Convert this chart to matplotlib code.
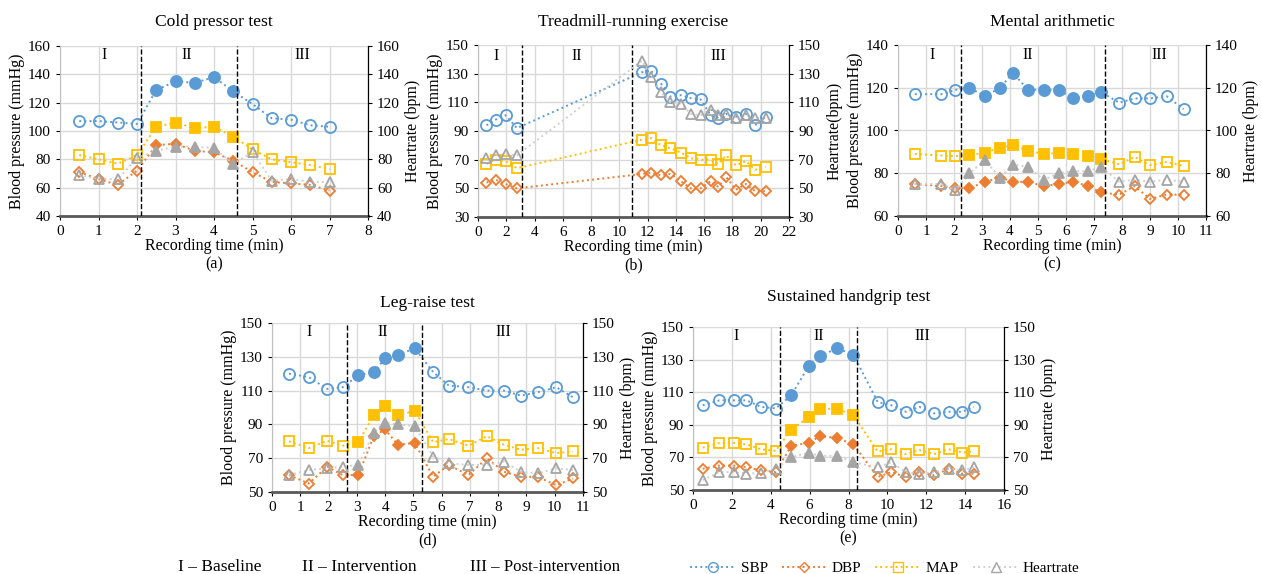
import matplotlib
matplotlib.use('Agg')
import matplotlib.pyplot as plt
from matplotlib.lines import Line2D

plt.rcParams['font.family'] = ['Liberation Serif', 'DejaVu Serif']
plt.rcParams['font.size'] = 11

# ---- 数据 ----
# (a) Cold pressor test
a_t   = [0.5, 1, 1.5, 2, 2.5, 3, 3.5, 4, 4.5, 5, 5.5, 6, 6.5, 7]
a_sbp = [107, 107, 106, 105, 129, 135, 134, 138, 128, 119, 109, 108, 104, 103]
a_dbp = [71, 66, 62, 72, 90, 91, 86, 85, 79, 71, 64, 63, 62, 58]
a_map = [83, 80, 77, 83, 103, 106, 102, 103, 96, 87, 80, 78, 76, 73]
a_hr  = [69, 66, 66, 81, 86, 89, 89, 88, 77, 85, 65, 66, 64, 64]
a_on  = [4, 5, 6, 7, 8]

# (b) Treadmill-running exercise
b_t   = [0.6, 1.25, 1.95, 2.75, 11.6, 12.25, 12.95, 13.6, 14.35, 15.05, 15.75,
         16.45, 17.0, 17.55, 18.25, 18.95, 19.6, 20.35]
b_sbp = [94, 98, 101, 92, 131, 132, 123, 114, 115, 113, 112, 101, 99, 102, 100, 102, 94, 100]
b_dbp = [54, 56, 53, 50, 60, 61, 59, 60, 55, 50, 50, 55, 51, 58, 49, 53, 48, 48]
b_map = [67, 70, 69, 64, 84, 85, 80, 78, 75, 71, 70, 70, 67, 73, 66, 69, 63, 65]
b_hr  = [71, 73, 74, 73, 139, 128, 117, 110, 109, 102, 101, 105, 101, 102, 99, 101, 99, 99]
b_on  = []

# (c) Mental arithmetic
c_t   = [0.6, 1.55, 2.05, 2.55, 3.1, 3.65, 4.1, 4.65, 5.2, 5.75, 6.25, 6.8, 7.25,
         7.9, 8.45, 9.0, 9.6, 10.2]
c_sbp = [117, 117, 119, 120, 116, 120, 127, 119, 119, 119, 115, 116, 118, 113, 115, 115, 116, 110]
c_dbp = [75, 74, 73, 73, 76, 78, 76, 76, 74, 75, 76, 74, 71, 70, 74, 68, 70, 70]
c_map = [89, 88.3, 88, 88.6, 89.5, 92, 93, 90.6, 89, 89.5, 89, 88, 86.7, 84.2, 87.6, 83.8, 85.3, 83.4]
c_hr  = [75, 75, 72, 80, 86, 78, 84, 83, 77, 80, 81, 81, 83, 76, 77, 76, 77, 76]
c_on  = [3, 4, 5, 6, 7, 8, 9, 10, 11, 12]

# (d) Leg-raise test
d_t   = [0.6, 1.3, 1.95, 2.5, 3.05, 3.6, 4.0, 4.45, 5.05, 5.7, 6.25, 6.95, 7.6,
         8.2, 8.8, 9.4, 10.05, 10.65]
d_sbp = [120, 118, 111, 112, 119, 121, 129, 131, 135, 121, 113, 112, 110, 110, 107, 109, 112, 106]
d_dbp = [60, 55, 65, 60, 60, 83, 87, 78, 79, 59, 66, 60, 70, 62, 59, 59, 54, 58]
d_map = [80, 76, 80.3, 77.4, 79.5, 95.5, 101, 95.5, 98, 79.5, 81.3, 77.4, 83, 78, 75, 76, 73, 74]
d_hr  = [60, 63, 64, 65, 66, 85, 91, 90, 89, 71, 67, 66, 66, 68, 62, 61, 64, 63]
d_on  = [4, 5, 6, 7, 8]

# (e) Sustained handgrip test
e_t   = [0.5, 1.35, 2.1, 2.75, 3.5, 4.25, 5.05, 5.95, 6.55, 7.4, 8.25, 9.5, 10.2,
         10.95, 11.65, 12.4, 13.15, 13.85, 14.45]
e_sbp = [102, 105, 105, 105, 101, 100, 108, 126, 132, 137, 133, 104, 102, 98, 101, 97, 98, 98, 101]
e_dbp = [63, 65, 65, 64, 62, 61, 77, 79, 83, 82, 78, 58, 61, 58, 61, 59, 63, 60, 60]
e_map = [76, 78.8, 78.8, 78, 75, 74, 87, 94.7, 99.6, 100, 96, 73.7, 75, 72, 74.5, 72, 75, 73, 73.7]
e_hr  = [56, 61, 61, 60, 60.5, 63, 70, 72.8, 71, 71, 67, 64, 67, 61, 60, 61, 63, 62, 64]
e_on  = [6, 7, 8, 9, 10]

c_sbp_col = '#5B9BD5'
c_dbp_col = '#ED7D31'
c_map_col = '#FFC000'
c_hr_col  = '#A5A5A5'
c_hr_line = '#D0D0D0'


def draw_series(ax, t, y, on, color, marker, ms, lcolor=None):
    ax.plot(t, y, ':', color=lcolor or color, lw=1.4, zorder=2)
    off = [i for i in range(len(t)) if i not in on]
    ax.plot([t[i] for i in off], [y[i] for i in off], ls='none', marker=marker,
            ms=ms, mfc='none', mec=color, mew=1.3, zorder=3)
    if on:
        ax.plot([t[i] for i in on], [y[i] for i in on], ls='none', marker=marker,
                ms=ms, mfc=color, mec=color, mew=1.3, zorder=3)


def panel(rect, t, sbp, dbp, mp, hr, on, xmax, xstep, ymin, ymax, ystep,
          vlines, phase_x, phase_y, title, tag, title_px, hr_label='Heartrate (bpm)'):
    ax = fig.add_axes(rect)
    ax2 = ax.twinx()
    draw_series(ax, t, dbp, on, c_dbp_col, 'D', 5.5)
    draw_series(ax, t, mp, on, c_map_col, 's', 7.5)
    draw_series(ax, t, sbp, on, c_sbp_col, 'o', 8)
    draw_series(ax2, t, hr, on, c_hr_col, '^', 7.5, lcolor=c_hr_line)
    for a in (ax, ax2):
        a.set_ylim(ymin, ymax)
        a.set_yticks(range(ymin, ymax + 1, ystep))
    ax.set_xlim(0, xmax)
    ax.set_xticks(range(0, xmax + 1, xstep))
    ax.grid(True, color='#D9D9D9', lw=1)
    ax.set_axisbelow(True)
    for v in vlines:
        ax.axvline(v, color='black', ls='--', lw=1, zorder=4)
    for lab, px in zip(['I', 'II', 'III'], phase_x):
        ax.text(px, phase_y, lab, ha='center', va='center', fontsize=11.5)
    for a in (ax, ax2):
        a.spines['top'].set_visible(False)
        a.tick_params(length=3, labelsize=11)
    ax.spines['bottom'].set_color('#595959')
    ax.spines['bottom'].set_linewidth(2)
    ax.spines['left'].set_color('#BFBFBF')
    ax2.spines['left'].set_visible(False)
    ax2.spines['bottom'].set_visible(False)
    ax.set_ylabel('Blood pressure (mmHg)', fontsize=11.5, labelpad=2)
    ax2.set_ylabel(hr_label, fontsize=11.5, labelpad=4)
    ax.set_xlabel('Recording time (min)\n(' + tag + ')', fontsize=11.5, labelpad=0,
                  linespacing=1.2)
    # 标题：相对图上沿的像素距离
    h_px = rect[3] * H
    ax.text(0.5, 1 + title_px / h_px, title, transform=ax.transAxes,
            ha='center', va='center', fontsize=12.6)
    return ax


fig = plt.figure(figsize=(12.62, 5.74), dpi=100)
W, H = 1262, 574


def rect(l, r, t, b):
    return [l / W, (H - b) / H, (r - l) / W, (b - t) / H]


panel(rect(60, 368, 46, 216), a_t, a_sbp, a_dbp, a_map, a_hr, a_on, 8, 1, 40, 160, 20,
      [2.1, 4.6], [1.15, 3.3, 6.3], 153.5, 'Cold pressor test', 'a', 24)
panel(rect(478, 789, 45, 217), b_t, b_sbp, b_dbp, b_map, b_hr, b_on, 22, 2, 30, 150, 20,
      [3.1, 10.9], [1.3, 7.0, 17.0], 142.5, 'Treadmill-running exercise', 'b', 23,
      hr_label='Heartrate(bpm)')
panel(rect(898, 1206, 45, 216), c_t, c_sbp, c_dbp, c_map, c_hr, c_on, 11, 1, 60, 140, 20,
      [2.25, 7.4], [1.2, 4.65, 9.35], 135.5, 'Mental arithmetic', 'c', 23)
panel(rect(272, 583, 323, 492), d_t, d_sbp, d_dbp, d_map, d_hr, d_on, 11, 1, 50, 150, 20,
      [2.65, 5.3], [1.3, 3.9, 8.2], 144.5, 'Leg-raise test', 'd', 20)
panel(rect(693, 1004, 327, 490), e_t, e_sbp, e_dbp, e_map, e_hr, e_on, 16, 2, 50, 150, 20,
      [4.5, 8.45], [2.2, 6.45, 11.8], 144.3, 'Sustained handgrip test', 'e', 30)

# 阶段说明
fig.text(178 / W, 1 - 567 / H, 'I – Baseline', fontsize=12.5, va='center')
fig.text(302 / W, 1 - 567 / H, 'II – Intervention', fontsize=12.5, va='center')
fig.text(470 / W, 1 - 567 / H, 'III – Post-intervention', fontsize=12.2, va='center')

handles = [
    Line2D([], [], ls=':', color=c_sbp_col, marker='o', mfc='none', ms=7, lw=1.4),
    Line2D([], [], ls=':', color=c_dbp_col, marker='D', mfc='none', ms=5, lw=1.4),
    Line2D([], [], ls=':', color=c_map_col, marker='s', mfc='none', ms=7, lw=1.4),
    Line2D([], [], ls=':', color=c_hr_line, marker='^', mfc='none', mec=c_hr_col, ms=7, lw=1.4),
]
fig.legend(handles, ['SBP', 'DBP', 'MAP', 'Heartrate'], loc='center',
           bbox_to_anchor=(885 / W, 1 - 568 / H), ncol=4, frameon=False,
           fontsize=11, handlelength=3, columnspacing=0.9, handletextpad=0.3,
           borderpad=0, borderaxespad=0)

fig.savefig('out.png', dpi=100)
